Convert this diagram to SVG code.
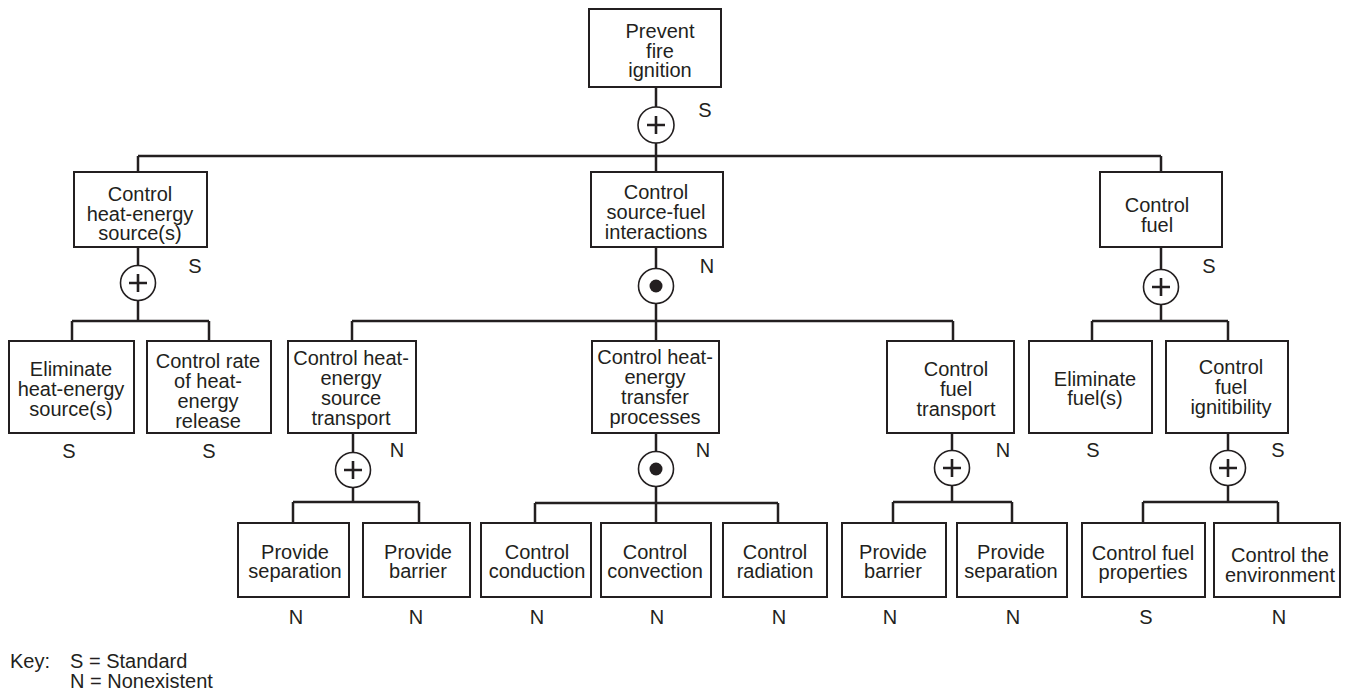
<svg xmlns="http://www.w3.org/2000/svg" width="1350" height="691" viewBox="0 0 1350 691">
<style>
.box{fill:#fff;stroke:#231f20;stroke-width:2}
.ln{stroke:#231f20;stroke-width:2.5;fill:none}
.gate{fill:#fff;stroke:#231f20;stroke-width:1.6}
.sym{stroke:#231f20;stroke-width:2.6;fill:none}
.dot{fill:#231f20}
text{font-family:"Liberation Sans",Arial,Helvetica,sans-serif;font-size:20px;fill:#231f20}
.c{text-anchor:middle}
</style>
<rect width="1350" height="691" fill="#fff"/>
<g id="connectors">
  <path class="ln" d="M656 87V107M656 143V172M138 156H1161M138 156V172M1161 156V172"/>
  <path class="ln" d="M138 247V265.5M138 300.5V321M72 321H209M72 321V341M209 321V341"/>
  <path class="ln" d="M656 247V268.5M656 303.5V341M352 321H953M352 321V341M953 321V341"/>
  <path class="ln" d="M1161 247V269.5M1161 304.5V321M1092 321H1228M1092 321V341M1228 321V341"/>
  <path class="ln" d="M353 433V452.5M353 487.5V502M293 502H419M293 502V523M419 502V523"/>
  <path class="ln" d="M656 433V451.5M656 486.5V523M535 503H778M535 503V523M778 503V523"/>
  <path class="ln" d="M952 433V450.5M952 485.5V502M893 502H1012M893 502V523M1012 502V523"/>
  <path class="ln" d="M1228 433V450.5M1228 485.5V502M1143 502H1278M1143 502V523M1278 502V523"/>
</g>
<g id="gates">
  <g id="g_top"><circle class="gate" cx="656" cy="125" r="18"/><path class="sym" d="M647 125H665M656 116V134"/></g>
  <g id="g_heat"><circle class="gate" cx="138" cy="283" r="17.5"/><path class="sym" d="M129 283H147M138 274V292"/></g>
  <g id="g_sf"><circle class="gate" cx="656" cy="286" r="17.5"/><circle class="dot" cx="656" cy="286" r="6.5"/></g>
  <g id="g_fuel"><circle class="gate" cx="1161" cy="287" r="17.5"/><path class="sym" d="M1152 287H1170M1161 278V296"/></g>
  <g id="g_srctrans"><circle class="gate" cx="353" cy="470" r="17.5"/><path class="sym" d="M344 470H362M353 461V479"/></g>
  <g id="g_transfer"><circle class="gate" cx="656" cy="469" r="17.5"/><circle class="dot" cx="656" cy="469" r="6.5"/></g>
  <g id="g_fueltrans"><circle class="gate" cx="952" cy="468" r="17.5"/><path class="sym" d="M943 468H961M952 459V477"/></g>
  <g id="g_ignit"><circle class="gate" cx="1228" cy="468" r="17.5"/><path class="sym" d="M1219 468H1237M1228 459V477"/></g>
</g>
<g id="n_top"><rect class="box" x="589" y="9" width="132" height="78"/>
  <text class="c" x="660"><tspan x="660" y="38">Prevent</tspan><tspan x="660" y="57.5">fire</tspan><tspan x="660" y="77">ignition</tspan></text></g>
<g id="n_heat"><rect class="box" x="74" y="172" width="133" height="75"/>
  <text class="c"><tspan x="140" y="200.5">Control</tspan><tspan x="140" y="220.5">heat-energy</tspan><tspan x="140" y="240">source(s)</tspan></text></g>
<g id="n_sf"><rect class="box" x="591" y="172" width="132" height="75"/>
  <text class="c"><tspan x="656" y="198.5">Control</tspan><tspan x="656" y="218.5">source-fuel</tspan><tspan x="656" y="238.5">interactions</tspan></text></g>
<g id="n_fuel"><rect class="box" x="1100" y="172" width="122" height="75"/>
  <text class="c"><tspan x="1157" y="211.5">Control</tspan><tspan x="1157" y="231.5">fuel</tspan></text></g>
<g id="n_elimheat"><rect class="box" x="9" y="341" width="125" height="92"/>
  <text class="c"><tspan x="71" y="376">Eliminate</tspan><tspan x="71" y="396">heat-energy</tspan><tspan x="71" y="416">source(s)</tspan></text></g>
<g id="n_rate"><rect class="box" x="147" y="341" width="124" height="92"/>
  <text class="c"><tspan x="208" y="367.5">Control rate</tspan><tspan x="208" y="388">of heat-</tspan><tspan x="208" y="408">energy</tspan><tspan x="208" y="427.5">release</tspan></text></g>
<g id="n_srctrans"><rect class="box" x="288" y="341" width="128" height="92"/>
  <text class="c"><tspan x="351" y="364.5">Control heat-</tspan><tspan x="351" y="384.5">energy</tspan><tspan x="351" y="405">source</tspan><tspan x="351" y="425">transport</tspan></text></g>
<g id="n_transfer"><rect class="box" x="592" y="341" width="127" height="92"/>
  <text class="c"><tspan x="655" y="363.5">Control heat-</tspan><tspan x="655" y="384">energy</tspan><tspan x="655" y="404">transfer</tspan><tspan x="655" y="424">processes</tspan></text></g>
<g id="n_fueltrans"><rect class="box" x="887" y="341" width="127" height="92"/>
  <text class="c"><tspan x="956" y="376">Control</tspan><tspan x="956" y="395.5">fuel</tspan><tspan x="956" y="415.5">transport</tspan></text></g>
<g id="n_elimfuel"><rect class="box" x="1029" y="341" width="123" height="92"/>
  <text class="c"><tspan x="1095" y="385.5">Eliminate</tspan><tspan x="1095" y="405">fuel(s)</tspan></text></g>
<g id="n_ignit"><rect class="box" x="1166" y="341" width="122" height="92"/>
  <text class="c"><tspan x="1231" y="373.5">Control</tspan><tspan x="1231" y="393.5">fuel</tspan><tspan x="1231" y="413.5">ignitibility</tspan></text></g>
<g id="n_sep1"><rect class="box" x="238" y="523" width="111" height="74"/>
  <text class="c"><tspan x="295" y="558.5">Provide</tspan><tspan x="295" y="577.5">separation</tspan></text></g>
<g id="n_bar1"><rect class="box" x="363" y="523" width="107" height="74"/>
  <text class="c"><tspan x="418" y="558.5">Provide</tspan><tspan x="418" y="577.5">barrier</tspan></text></g>
<g id="n_cond"><rect class="box" x="481" y="523" width="110" height="74"/>
  <text class="c"><tspan x="537" y="558.5">Control</tspan><tspan x="537" y="577.5">conduction</tspan></text></g>
<g id="n_conv"><rect class="box" x="601" y="523" width="110" height="74"/>
  <text class="c"><tspan x="655" y="558.5">Control</tspan><tspan x="655" y="577.5">convection</tspan></text></g>
<g id="n_rad"><rect class="box" x="723" y="523" width="104" height="74"/>
  <text class="c"><tspan x="775" y="558.5">Control</tspan><tspan x="775" y="577.5">radiation</tspan></text></g>
<g id="n_bar2"><rect class="box" x="842" y="523" width="104" height="74"/>
  <text class="c"><tspan x="893" y="558.5">Provide</tspan><tspan x="893" y="577.5">barrier</tspan></text></g>
<g id="n_sep2"><rect class="box" x="957" y="523" width="110" height="74"/>
  <text class="c"><tspan x="1011" y="558.5">Provide</tspan><tspan x="1011" y="577.5">separation</tspan></text></g>
<g id="n_props"><rect class="box" x="1082" y="523" width="123" height="74"/>
  <text class="c"><tspan x="1143" y="559.5">Control fuel</tspan><tspan x="1143" y="578.5">properties</tspan></text></g>
<g id="n_env"><rect class="box" x="1214" y="523" width="126" height="74"/>
  <text class="c"><tspan x="1280" y="562">Control the</tspan><tspan x="1280" y="581.5">environment</tspan></text></g>
<g id="ratings">
  <text class="c" x="705" y="117">S</text>
  <text class="c" x="195" y="273">S</text>
  <text class="c" x="707" y="273">N</text>
  <text class="c" x="1209" y="273">S</text>
  <text class="c" x="69" y="458">S</text>
  <text class="c" x="209" y="458">S</text>
  <text class="c" x="397" y="457">N</text>
  <text class="c" x="703" y="457">N</text>
  <text class="c" x="1003" y="457">N</text>
  <text class="c" x="1093" y="457">S</text>
  <text class="c" x="1278" y="457">S</text>
  <text class="c" x="296" y="624">N</text>
  <text class="c" x="416" y="624">N</text>
  <text class="c" x="537" y="624">N</text>
  <text class="c" x="657" y="624">N</text>
  <text class="c" x="779" y="624">N</text>
  <text class="c" x="890" y="624">N</text>
  <text class="c" x="1013" y="624">N</text>
  <text class="c" x="1146" y="624">S</text>
  <text class="c" x="1279" y="624">N</text>
</g>
<g id="key">
  <text x="10" y="668">Key:</text>
  <text x="70" y="668">S = Standard</text>
  <text x="70" y="688">N = Nonexistent</text>
</g>
</svg>
